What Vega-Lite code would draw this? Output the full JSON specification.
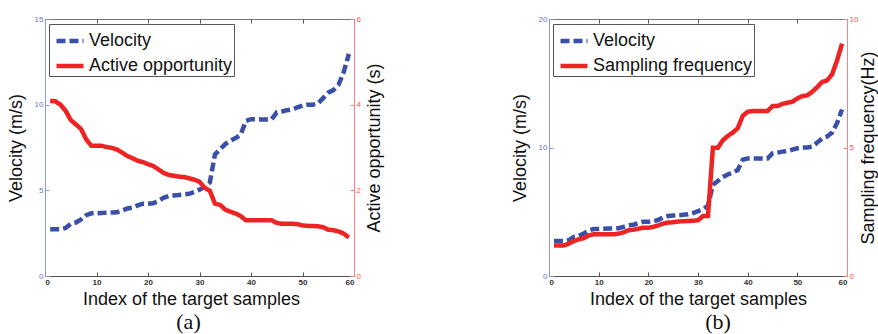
{
  "$schema": "https://vega.github.io/schema/vega-lite/v6.json",
  "background": "white",
  "padding": {"left": 6, "top": 14, "right": 0, "bottom": 0},
  "datasets": {
    "vel": [
      {"x":1,"y":2.73},{"x":2,"y":2.73},{"x":3,"y":2.73},{"x":4,"y":2.8},{"x":5,"y":3.05},{"x":6,"y":3.12},{"x":7,"y":3.3},{"x":8,"y":3.55},{"x":9,"y":3.66},{"x":10,"y":3.66},
      {"x":11,"y":3.68},{"x":12,"y":3.7},{"x":13,"y":3.7},{"x":14,"y":3.72},{"x":15,"y":3.82},{"x":16,"y":3.94},{"x":17,"y":3.99},{"x":18,"y":4.12},{"x":19,"y":4.22},{"x":20,"y":4.22},
      {"x":21,"y":4.25},{"x":22,"y":4.37},{"x":23,"y":4.56},{"x":24,"y":4.67},{"x":25,"y":4.7},{"x":26,"y":4.73},{"x":27,"y":4.76},{"x":28,"y":4.8},{"x":29,"y":4.9},{"x":30,"y":5.04},
      {"x":31,"y":5.2},{"x":32,"y":5.45},{"x":33,"y":7.1},{"x":34,"y":7.4},{"x":35,"y":7.7},{"x":36,"y":7.9},{"x":37,"y":8.05},{"x":38,"y":8.25},{"x":39,"y":9.05},{"x":40,"y":9.15},
      {"x":41,"y":9.15},{"x":42,"y":9.14},{"x":43,"y":9.14},{"x":44,"y":9.14},{"x":45,"y":9.55},{"x":46,"y":9.6},{"x":47,"y":9.68},{"x":48,"y":9.72},{"x":49,"y":9.84},{"x":50,"y":9.94},
      {"x":51,"y":10.0},{"x":52,"y":10.0},{"x":53,"y":10.07},{"x":54,"y":10.38},{"x":55,"y":10.7},{"x":56,"y":10.85},{"x":57,"y":11.16},{"x":58,"y":11.9},{"x":59,"y":12.96}
    ],
    "act": [
      {"x":1,"y":4.09},{"x":2,"y":4.08},{"x":3,"y":4.0},{"x":4,"y":3.86},{"x":5,"y":3.64},{"x":6,"y":3.54},{"x":7,"y":3.43},{"x":8,"y":3.19},{"x":9,"y":3.04},{"x":10,"y":3.04},
      {"x":11,"y":3.04},{"x":12,"y":3.01},{"x":13,"y":2.99},{"x":14,"y":2.95},{"x":15,"y":2.88},{"x":16,"y":2.8},{"x":17,"y":2.75},{"x":18,"y":2.69},{"x":19,"y":2.66},{"x":20,"y":2.61},
      {"x":21,"y":2.57},{"x":22,"y":2.49},{"x":23,"y":2.41},{"x":24,"y":2.36},{"x":25,"y":2.34},{"x":26,"y":2.32},{"x":27,"y":2.31},{"x":28,"y":2.28},{"x":29,"y":2.25},{"x":30,"y":2.2},
      {"x":31,"y":2.06},{"x":32,"y":1.99},{"x":33,"y":1.69},{"x":34,"y":1.66},{"x":35,"y":1.55},{"x":36,"y":1.5},{"x":37,"y":1.46},{"x":38,"y":1.4},{"x":39,"y":1.3},{"x":40,"y":1.3},
      {"x":41,"y":1.3},{"x":42,"y":1.3},{"x":43,"y":1.3},{"x":44,"y":1.3},{"x":45,"y":1.24},{"x":46,"y":1.22},{"x":47,"y":1.22},{"x":48,"y":1.22},{"x":49,"y":1.21},{"x":50,"y":1.18},
      {"x":51,"y":1.17},{"x":52,"y":1.17},{"x":53,"y":1.16},{"x":54,"y":1.14},{"x":55,"y":1.08},{"x":56,"y":1.07},{"x":57,"y":1.04},{"x":58,"y":0.99},{"x":59,"y":0.9}
    ],
    "freq": [
      {"x":1,"y":1.19},{"x":2,"y":1.19},{"x":3,"y":1.19},{"x":4,"y":1.26},{"x":5,"y":1.36},{"x":6,"y":1.43},{"x":7,"y":1.47},{"x":8,"y":1.58},{"x":9,"y":1.62},{"x":10,"y":1.62},
      {"x":11,"y":1.62},{"x":12,"y":1.62},{"x":13,"y":1.62},{"x":14,"y":1.65},{"x":15,"y":1.7},{"x":16,"y":1.78},{"x":17,"y":1.8},{"x":18,"y":1.84},{"x":19,"y":1.88},{"x":20,"y":1.88},
      {"x":21,"y":1.91},{"x":22,"y":1.97},{"x":23,"y":2.04},{"x":24,"y":2.08},{"x":25,"y":2.09},{"x":26,"y":2.12},{"x":27,"y":2.13},{"x":28,"y":2.14},{"x":29,"y":2.15},{"x":30,"y":2.17},
      {"x":31,"y":2.33},{"x":32,"y":2.33},{"x":33,"y":4.99},{"x":34,"y":4.99},{"x":35,"y":5.28},{"x":36,"y":5.45},{"x":37,"y":5.58},{"x":38,"y":5.75},{"x":39,"y":6.23},{"x":40,"y":6.39},
      {"x":41,"y":6.42},{"x":42,"y":6.42},{"x":43,"y":6.42},{"x":44,"y":6.42},{"x":45,"y":6.61},{"x":46,"y":6.61},{"x":47,"y":6.7},{"x":48,"y":6.74},{"x":49,"y":6.78},{"x":50,"y":6.91},
      {"x":51,"y":7.0},{"x":52,"y":7.03},{"x":53,"y":7.17},{"x":54,"y":7.35},{"x":55,"y":7.55},{"x":56,"y":7.61},{"x":57,"y":7.85},{"x":58,"y":8.39},{"x":59,"y":9.04}
    ]
  },
  "config": {
    "font": "Liberation Sans",
    "view": {"stroke": "#777", "strokeWidth": 1},
    "concat": {"spacing": 126},
    "axis": {"grid": false, "tickSize": -4, "labelPadding": 6, "labelFontSize": 8, "titleFontSize": 18, "titleFontWeight": "normal", "titleColor": "#111", "domainWidth": 1, "tickWidth": 1},
    "legend": {"orient": "none", "legendX": 4, "legendY": 5, "title": null, "strokeColor": "#555", "fillColor": "white", "padding": 1, "symbolOffset": 4, "labelFontSize": 18, "labelColor": "#111", "symbolType": "stroke", "symbolSize": 729, "symbolStrokeWidth": 4.5, "labelOffset": 3, "rowPadding": -3},
    "title": {"font": "Liberation Serif", "fontSize": 22, "fontWeight": "normal", "color": "#111"}
  },
  "hconcat": [
    {
      "width": 309, "height": 257,
      "title": {"text": "(a)", "orient": "bottom", "offset": 4, "dx": -11},
      "layer": [
        {
          "data": {"name": "vel"},
          "mark": {"type": "line", "strokeWidth": 4.5},
          "encoding": {
            "x": {"field": "x", "type": "quantitative", "scale": {"domain": [0, 60], "nice": false},
                  "axis": {"orient": "bottom", "values": [0,10,20,30,40,50,60], "title": "Index of the target samples", "titleX": 146, "titlePadding": 4, "labelFontWeight": "bold", "labelColor": "#333", "domainColor": "#555", "tickColor": "#555"}},
            "y": {"field": "y", "type": "quantitative", "scale": {"domain": [0, 15], "nice": false},
                  "axis": {"orient": "left", "values": [0,5,10,15], "title": "Velocity (m/s)", "titlePadding": 9, "labelColor": "#6474c8", "domainColor": "#8e98d8", "tickColor": "#8e98d8"}},
            "color": {"datum": "Velocity", "scale": {"domain": ["Velocity", "Active opportunity"], "range": ["#3a50a8", "#ee2424"]}},
            "strokeDash": {"datum": "Velocity", "scale": {"domain": ["Velocity", "Active opportunity"], "range": [[9, 4], [1, 0]]}}
          }
        },
        {
          "data": {"name": "act"},
          "mark": {"type": "line", "strokeWidth": 4.5},
          "encoding": {
            "x": {"field": "x", "type": "quantitative", "scale": {"domain": [0, 60], "nice": false},
                  "axis": {"orient": "top", "values": [0,10,20,30,40,50,60], "title": null, "labels": false, "domain": false, "tickColor": "#555"}},
            "y": {"field": "y", "type": "quantitative", "scale": {"domain": [0, 6], "nice": false},
                  "axis": {"orient": "right", "values": [0,2,4,6], "title": "Active opportunity (s)", "titleAngle": 270, "titleBaseline": "top", "titlePadding": 5, "labelColor": "#ff5050", "domainColor": "#ff8080", "tickColor": "#ff8080"}},
            "color": {"datum": "Active opportunity"},
            "strokeDash": {"datum": "Active opportunity"}
          }
        }
      ],
      "resolve": {"scale": {"y": "independent"}}
    },
    {
      "width": 298, "height": 257,
      "title": {"text": "(b)", "orient": "bottom", "offset": 4, "dx": 20},
      "layer": [
        {
          "data": {"name": "vel"},
          "mark": {"type": "line", "strokeWidth": 4.5},
          "encoding": {
            "x": {"field": "x", "type": "quantitative", "scale": {"domain": [0, 60], "nice": false},
                  "axis": {"orient": "bottom", "values": [0,10,20,30,40,50,60], "title": "Index of the target samples", "titlePadding": 4, "labelFontWeight": "bold", "labelColor": "#333", "domainColor": "#555", "tickColor": "#555"}},
            "y": {"field": "y", "type": "quantitative", "scale": {"domain": [0, 20], "nice": false},
                  "axis": {"orient": "left", "values": [0,10,20], "title": "Velocity (m/s)", "titlePadding": 9, "labelColor": "#6474c8", "domainColor": "#8e98d8", "tickColor": "#8e98d8"}},
            "color": {"datum": "Velocity", "scale": {"domain": ["Velocity", "Sampling frequency"], "range": ["#3a50a8", "#ee2424"]}},
            "strokeDash": {"datum": "Velocity", "scale": {"domain": ["Velocity", "Sampling frequency"], "range": [[9, 4], [1, 0]]}}
          }
        },
        {
          "data": {"name": "freq"},
          "mark": {"type": "line", "strokeWidth": 4.5},
          "encoding": {
            "x": {"field": "x", "type": "quantitative", "scale": {"domain": [0, 60], "nice": false},
                  "axis": {"orient": "top", "values": [0,10,20,30,40,50,60], "title": null, "labels": false, "domain": false, "tickColor": "#555"}},
            "y": {"field": "y", "type": "quantitative", "scale": {"domain": [0, 10], "nice": false},
                  "axis": {"orient": "right", "values": [0,5,10], "title": "Sampling frequency(Hz)", "titleAngle": 270, "titleBaseline": "top", "titlePadding": 2, "labelColor": "#ff5050", "domainColor": "#ff8080", "tickColor": "#ff8080"}},
            "color": {"datum": "Sampling frequency"},
            "strokeDash": {"datum": "Sampling frequency"}
          }
        }
      ],
      "resolve": {"scale": {"y": "independent"}}
    }
  ],
  "resolve": {"scale": {"color": "independent", "strokeDash": "independent"}}
}
